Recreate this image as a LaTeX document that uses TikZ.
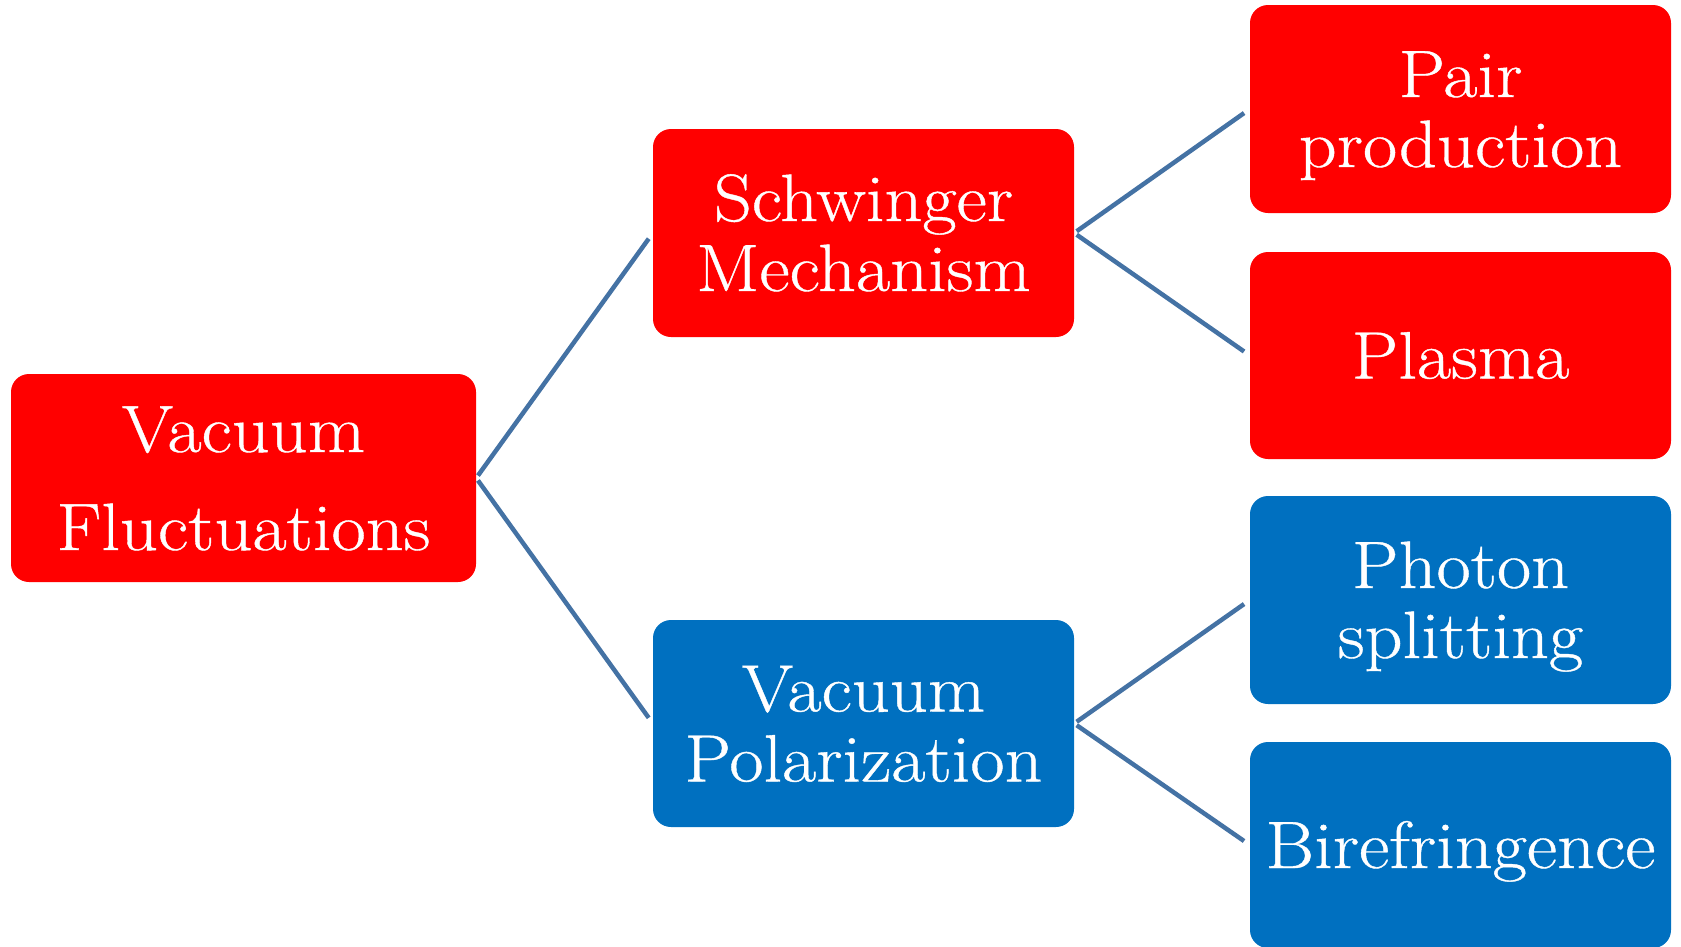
\documentclass[tikz,border=0pt]{standalone}
\usepackage{fontspec}
\setmainfont[FakeStretch=1.11,FakeBold=0.6]{Latin Modern Roman}
\definecolor{boxred}{RGB}{255,0,0}
\definecolor{boxblue}{RGB}{0,112,192}
\definecolor{linkblue}{RGB}{68,114,164}
\begin{document}
\begin{tikzpicture}[x=1pt,y=-1pt,
  box/.style={rectangle, rounded corners=18pt, inner sep=0pt, text=white, align=center,
    minimum width=421pt, minimum height=208pt, text depth=0pt,
    font=\fontsize{67}{70}\selectfont},
  redbox/.style={box, fill=boxred},
  bluebox/.style={box, fill=boxblue},
  oneline/.style={text height=46pt},
  twoline/.style={text height=116pt},
  link/.style={draw=linkblue, line width=4.5pt, shorten <=3pt, shorten >=7pt}]
\useasboundingbox (0,0) rectangle (1681,946);

\node[redbox, minimum width=465pt, text height=144pt, font=\fontsize{67}{98}\selectfont] (VF) at (243.5,478) {Vacuum\\Fluctuations};
\node[redbox, twoline] (SM) at (863.5,233) {Schwinger\\Mechanism};
\node[bluebox, twoline, minimum height=207pt] (VP) at (863.5,723.5) {Vacuum\\Polarization};
\node[redbox, twoline] (PP) at (1460.5,109) {Pair\\production};
\node[redbox, oneline, minimum height=207pt] (PL) at (1460.5,355.5) {Plasma};
\node[bluebox, twoline] (PS) at (1460.5,600) {Photon\\splitting};
\node[bluebox, oneline, minimum height=206pt] (BI) at (1460.5,845) {Birefringence};

\draw[link] (VF.east) -- (SM.west);
\draw[link] (VF.east) -- (VP.west);
\draw[link] (SM.east) -- (PP.west);
\draw[link] (SM.east) -- (PL.west);
\draw[link] (VP.east) -- (PS.west);
\draw[link] (VP.east) -- (BI.west);
\end{tikzpicture}
\end{document}
